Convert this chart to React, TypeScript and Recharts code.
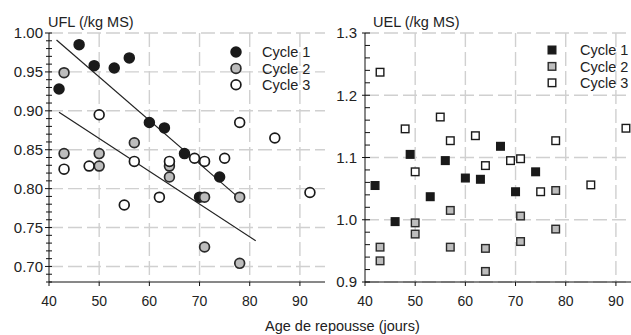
import React from 'react';
import {
  ScatterChart,
  Scatter,
  XAxis,
  YAxis,
  CartesianGrid,
  ReferenceLine,
  Legend,
  Label,
} from 'recharts';

// shared x axis (Age de repousse, jours)
const xTicks = [40, 50, 60, 70, 80, 90];
const xGrid = [50, 60, 70, 80, 90];
const cycleNames = ['Cycle 1', 'Cycle 2', 'Cycle 3'];

// UFL (/kg MS), left panel
const uflMajor = [0.7, 0.75, 0.8, 0.85, 0.9, 0.95, 1.0];
const uflCycle1 = [
  { x: 42, y: 0.928 }, { x: 46, y: 0.985 }, { x: 49, y: 0.958 }, { x: 53, y: 0.955 },
  { x: 56, y: 0.968 }, { x: 60, y: 0.885 }, { x: 63, y: 0.878 }, { x: 67, y: 0.845 },
  { x: 70, y: 0.789 }, { x: 74, y: 0.815 },
];
const uflCycle2 = [
  { x: 43, y: 0.949 }, { x: 43, y: 0.845 }, { x: 50, y: 0.845 }, { x: 50, y: 0.829 },
  { x: 57, y: 0.859 }, { x: 64, y: 0.829 }, { x: 64, y: 0.815 }, { x: 71, y: 0.789 },
  { x: 71, y: 0.725 }, { x: 78, y: 0.789 }, { x: 78, y: 0.704 },
];
const uflCycle3 = [
  { x: 43, y: 0.825 }, { x: 48, y: 0.829 }, { x: 50, y: 0.895 }, { x: 55, y: 0.779 },
  { x: 57, y: 0.835 }, { x: 62, y: 0.789 }, { x: 64, y: 0.835 }, { x: 69, y: 0.839 },
  { x: 71, y: 0.835 }, { x: 75, y: 0.839 }, { x: 78, y: 0.885 }, { x: 85, y: 0.865 },
  { x: 92, y: 0.795 },
];
const uflFit1 = [{ x: 41.5, y: 0.991 }, { x: 77.5, y: 0.79 }];
const uflFit2 = [{ x: 42, y: 0.898 }, { x: 81.2, y: 0.733 }];

// UEL (/kg MS), right panel
const uelMajor = [0.9, 1.0, 1.1, 1.2, 1.3];
const uelCycle1 = [
  { x: 42, y: 1.055 }, { x: 46, y: 0.997 }, { x: 49, y: 1.105 }, { x: 53, y: 1.037 },
  { x: 56, y: 1.095 }, { x: 60, y: 1.067 }, { x: 63, y: 1.065 }, { x: 67, y: 1.118 },
  { x: 70, y: 1.045 }, { x: 74, y: 1.077 },
];
const uelCycle2 = [
  { x: 43, y: 0.956 }, { x: 43, y: 0.934 }, { x: 50, y: 0.995 }, { x: 50, y: 0.977 },
  { x: 57, y: 1.015 }, { x: 57, y: 0.956 }, { x: 64, y: 0.954 }, { x: 64, y: 0.917 },
  { x: 71, y: 1.006 }, { x: 71, y: 0.965 }, { x: 78, y: 1.047 }, { x: 78, y: 0.985 },
];
const uelCycle3 = [
  { x: 43, y: 1.237 }, { x: 48, y: 1.146 }, { x: 50, y: 1.077 }, { x: 55, y: 1.165 },
  { x: 57, y: 1.127 }, { x: 62, y: 1.135 }, { x: 64, y: 1.087 }, { x: 69, y: 1.095 },
  { x: 71, y: 1.098 }, { x: 75, y: 1.045 }, { x: 78, y: 1.127 }, { x: 85, y: 1.056 },
  { x: 92, y: 1.147 },
];

const styles = [
  { fill: '#1a1a1a', stroke: '#1a1a1a' },
  { fill: '#bdbdbd', stroke: '#2a2a2a' },
  { fill: '#ffffff', stroke: '#1a1a1a' },
];

const minorTicks = (lo: number, hi: number, step: number) => {
  const out: number[] = [];
  for (let v = lo; v <= hi + 1e-9; v += step) out.push(Math.round(v * 1000) / 1000);
  return out;
};

const TEXT = '#222';
const GRID = '#d0d0d0';

const Marker = ({ kind, cx, cy, i }: any) => {
  const s = styles[i];
  if (kind === 'circle') {
    return <circle cx={cx} cy={cy} r={4.9} fill={s.fill} stroke={s.stroke} strokeWidth={1.7} />;
  }
  return <rect x={cx - 3.8} y={cy - 3.8} width={7.6} height={7.6} fill={s.fill} stroke={s.stroke} strokeWidth={1.4} />;
};

const makeTick = (majors: number[], decimals: number, side: 'both' | 'in', gap: number) => (p: any) => {
  const v = p.payload.value;
  const major = majors.some((m) => Math.abs(m - v) < 1e-6);
  const x = p.x;
  const x1 = side === 'both' ? x - (major ? 4 : 3) : x - (major ? 3 : 0);
  const x2 = side === 'both' ? x + 3 : x + 5;
  return (
    <g>
      <line x1={x1} x2={x2} y1={p.y} y2={p.y} stroke="#111" strokeWidth={1} />
      {major && (
        <text x={x - gap} y={p.y} dy="0.35em" textAnchor="end" fill={TEXT} fontSize={15}>
          {v.toFixed(decimals)}
        </text>
      )}
    </g>
  );
};

const makeLegend = (kind: string, dx: number) => (props: any) => {
  const payload = props.payload || [];
  return (
    <svg width={110} height={56}>
      {payload.map((entry: any, i: number) => (
        <g key={entry.value}>
          <Marker kind={kind} cx={10} cy={12 + i * 16.4} i={i} />
          <text x={dx} y={12 + i * 16.4} dy="0.36em" fill={TEXT} fontSize={14.5}>
            {entry.value}
          </text>
        </g>
      ))}
    </svg>
  );
};

interface PanelProps {
  left: number;
  width: number;
  yWidth: number;
  domain: [number, number];
  majors: number[];
  ticks: number[];
  decimals: number;
  side: 'both' | 'in';
  gap: number;
  title: string;
  titleDx: number;
  kind: 'circle' | 'square';
  series: { x: number; y: number }[][];
  fits: { x: number; y: number }[][];
  legendLeft: number;
  legendTop: number;
  legendDx: number;
}

const Panel = (p: PanelProps) => (
  <div style={{ position: 'absolute', left: p.left, top: 0 }}>
    <ScatterChart width={p.width} height={335} margin={{ top: 33, right: p.width === 330 ? 5 : 4, left: 0, bottom: 23 }}>
      <CartesianGrid
        stroke={GRID}
        strokeWidth={1.4}
        strokeDasharray="14 5"
        horizontalValues={p.majors}
        verticalValues={xGrid}
      />
      <XAxis
        type="number"
        dataKey="x"
        domain={[40, 95]}
        ticks={xTicks}
        allowDataOverflow
        interval={0}
        height={30}
        tickSize={4}
        tickMargin={10}
        axisLine={{ stroke: '#111' }}
        tickLine={{ stroke: '#111' }}
        tick={{ fill: TEXT, fontSize: 14 }}
      />
      <YAxis
        type="number"
        dataKey="y"
        domain={p.domain}
        ticks={p.ticks}
        allowDataOverflow
        interval={0}
        width={p.yWidth}
        tickSize={0}
        tickMargin={0}
        tickLine={false}
        axisLine={{ stroke: '#111' }}
        tick={makeTick(p.majors, p.decimals, p.side, p.gap)}
      >
        <Label
          content={({ viewBox }: any) => (
            <text x={viewBox.x + viewBox.width + p.titleDx} y={viewBox.y - 6} fill={TEXT} fontSize={14.5}>
              {p.title}
            </text>
          )}
        />
      </YAxis>
      {p.fits.map((seg, i) => (
        <ReferenceLine key={'fit' + i} segment={seg} stroke="#222" strokeWidth={1.2} ifOverflow="visible" />
      ))}
      {p.series.map((data, i) => (
        <Scatter
          key={cycleNames[i]}
          name={cycleNames[i]}
          data={data}
          fill={styles[i].fill}
          isAnimationActive={false}
          shape={(sp: any) => <Marker kind={p.kind} cx={sp.cx} cy={sp.cy} i={i} />}
        />
      ))}
      <Legend
        layout="vertical"
        align="center"
        verticalAlign="middle"
        content={makeLegend(p.kind, p.legendDx)}
        wrapperStyle={{ left: p.legendLeft, top: p.legendTop, width: 110 }}
      />
    </ScatterChart>
  </div>
);

export default function App() {
  return (
    <div
      style={{
        position: 'absolute',
        left: 0,
        top: 0,
        width: 631,
        height: 335,
        overflow: 'hidden',
        background: '#fff',
        fontFamily: '"Liberation Sans", Arial, sans-serif',
      }}
    >
      <Panel
        left={0}
        width={330}
        yWidth={49}
        domain={[0.68, 1.0]}
        majors={uflMajor}
        ticks={minorTicks(0.68, 1.0, 0.01)}
        decimals={2}
        side="both"
        gap={6}
        title="UFL (/kg MS)"
        titleDx={-1}
        kind="circle"
        series={[uflCycle1, uflCycle2, uflCycle3]}
        fits={[uflFit1, uflFit2]}
        legendLeft={226}
        legendTop={40}
        legendDx={36}
      />
      <Panel
        left={320}
        width={325}
        yWidth={45}
        domain={[0.9, 1.3]}
        majors={uelMajor}
        ticks={minorTicks(0.9, 1.3, 0.02)}
        decimals={1}
        side="in"
        gap={8}
        title="UEL (/kg MS)"
        titleDx={8}
        kind="square"
        series={[uelCycle1, uelCycle2, uelCycle3]}
        fits={[]}
        legendLeft={222}
        legendTop={38}
        legendDx={38}
      />
      <div
        style={{
          position: 'absolute',
          left: 265,
          top: 318,
          fontSize: 14.5,
          color: TEXT,
          whiteSpace: 'nowrap',
        }}
      >
        Age de repousse (jours)
      </div>
    </div>
  );
}
